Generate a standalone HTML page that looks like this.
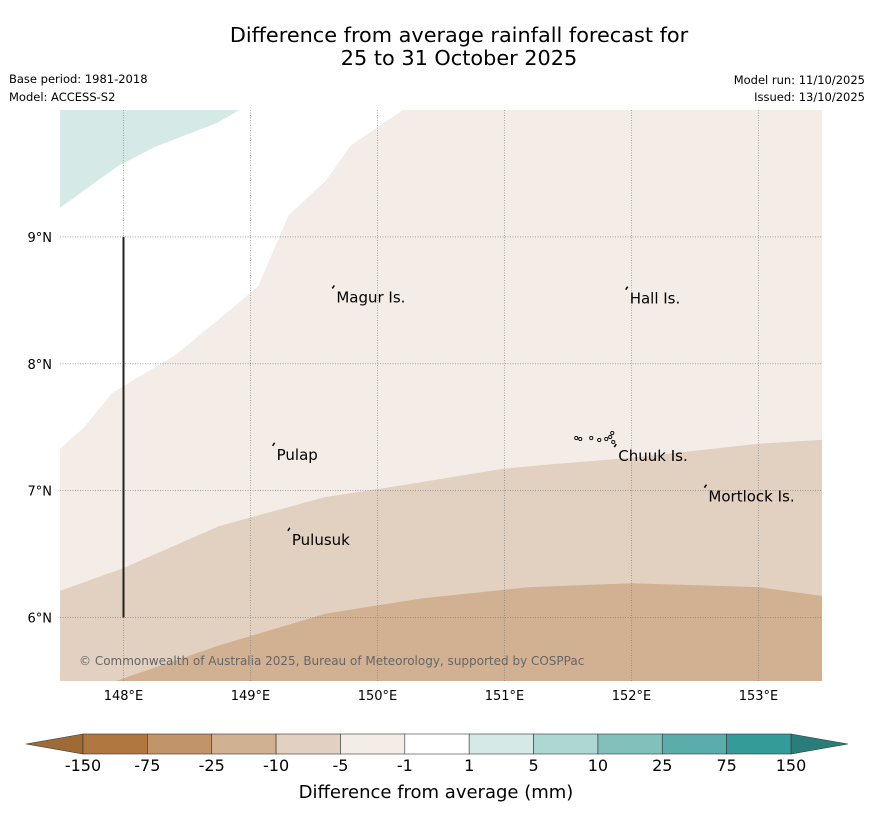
<!DOCTYPE html>
<html><head><meta charset="utf-8"><style>
body{margin:0;background:#fff;font-family:"Liberation Sans","DejaVu Sans",sans-serif}
svg text{font-family:"DejaVu Sans","Liberation Sans",sans-serif}
</style></head><body>
<svg id="c" width="873" height="816" xmlns="http://www.w3.org/2000/svg">
<text x="459" y="42" font-size="20.8" text-anchor="middle">Difference from average rainfall forecast for</text>
<text x="459" y="65" font-size="20.8" text-anchor="middle">25 to 31 October 2025</text>
<text x="9" y="83" font-size="11.5">Base period: 1981-2018</text>
<text x="9" y="101" font-size="11.5">Model: ACCESS-S2</text>
<text x="865" y="84" font-size="11.5" text-anchor="end">Model run: 11/10/2025</text>
<text x="865" y="101" font-size="11.5" text-anchor="end">Issued: 13/10/2025</text>
<g id="map"></g>
<g id="cbar"></g>
<text x="436" y="798" font-size="18" text-anchor="middle">Difference from average (mm)</text>
</svg>
<script>
const lonTicks=[148,149,150,151,152,153];
const latTicks=[6,7,8,9];
const tealBoundary=[[147.5,9.23],[147.96,9.56],[148.25,9.71],[148.74,9.90],[148.91,10.0]];
const whiteBoundary=[[147.5,7.33],[147.69,7.50],[147.91,7.77],[148.41,8.07],[148.75,8.35],[149.06,8.61],[149.30,9.17],[149.59,9.44],[149.79,9.72],[150.20,10.0]];
const mediumBoundary=[[147.5,6.21],[148.0,6.39],[148.75,6.72],[149.59,6.95],[150.18,7.04],[150.97,7.17],[151.28,7.20],[152.0,7.26],[153.0,7.37],[153.5,7.40]];
const darkBoundary=[[147.94,5.5],[148.75,5.78],[149.59,6.03],[150.34,6.15],[151.20,6.24],[152.0,6.27],[153.0,6.24],[153.5,6.17]];
const islandNames=["Magur Is.","Hall Is.","Pulap","Chuuk Is.","Mortlock Is.","Pulusuk"];
const islandLon=[149.66,151.97,149.19,151.88,152.59,149.31];
const islandLat=[8.57,8.56,7.33,7.32,7.0,6.66];
const cbarLevels=["-150","-75","-25","-10","-5","-1","1","5","10","25","75","150"];
const cbarColors=["#b07840","#c29469","#d2b192","#e2d0c0","#f4ece6","#ffffff","#d5e9e6","#aed6d3","#82c0bc","#5aadaa","#349b98"];
const LON0=147.5,LON1=153.5,LAT0=5.5,LAT1=10.0;
const PX0=60,PX1=822,PY0=110,PY1=681;
const sx=lon=>PX0+(lon-LON0)/(LON1-LON0)*(PX1-PX0);
const sy=lat=>PY1-(lat-LAT0)/(LAT1-LAT0)*(PY1-PY0);
const NS="http://www.w3.org/2000/svg";
function mk(tag,attrs,parent){const e=document.createElementNS(NS,tag);for(const k in attrs)e.setAttribute(k,attrs[k]);parent.appendChild(e);return e;}
const pts=a=>a.map(p=>sx(p[0]).toFixed(1)+","+sy(p[1]).toFixed(1)).join(" ");
const map=document.getElementById("map");
let e;
e=mk("rect",{x:PX0,y:PY0,width:PX1-PX0,height:PY1-PY0,fill:"#f4ece6"},map);


e=mk("polygon",{points:pts([...whiteBoundary,[LON0,LAT1]]),fill:"#ffffff"},map);


e=mk("polygon",{points:pts([...tealBoundary,[LON0,LAT1]]),fill:"#d5e9e6"},map);


e=mk("polygon",{points:pts([...mediumBoundary,[LON1,LAT0],[LON0,LAT0]]),fill:"#e2d0c0"},map);


e=mk("polygon",{points:pts([...darkBoundary,[LON1,LAT0]]),fill:"#d2b192"},map);


lonTicks.forEach(l=>{
 e=mk("line",{x1:sx(l),x2:sx(l),y1:PY0,y2:PY1,stroke:"#777","stroke-width":0.6,"stroke-dasharray":"1,1.5"},map);
 
 
 e=mk("text",{x:sx(l),y:PY1+19,"font-size":13,"text-anchor":"middle"},map);e.textContent=l+"°E";
 
 
});
latTicks.forEach(l=>{
 e=mk("line",{x1:PX0,x2:PX1,y1:sy(l),y2:sy(l),stroke:"#777","stroke-width":0.6,"stroke-dasharray":"1,1.5"},map);
 
 
 e=mk("text",{x:PX0-8,y:sy(l)+5,"font-size":13,"text-anchor":"end"},map);e.textContent=l+"°N";
 
 
});
e=mk("line",{x1:sx(148),x2:sx(148),y1:sy(9),y2:sy(6),stroke:"#222","stroke-width":2},map);


islandNames.forEach((n,i)=>{
 const x=sx(islandLon[i]),y=sy(islandLat[i]);
 e=mk("path",{d:`M${x-2},${y-3} l2,-3`,stroke:"#000","stroke-width":1.5,fill:"none"},map);
 
 
 e=mk("text",{x:x+2,y:y+11,"font-size":15},map);e.textContent=n;
 
 
});
// Chuuk lagoon small islands
const cx=sx(151.88),cy=sy(7.32);
[[-40,-12],[-36,-11],[-25,-12],[-17,-10],[-10,-11],[-6,-13],[-4,-17],[-3,-8]].forEach(p=>{
 e=mk("circle",{cx:cx+p[0],cy:cy+p[1],r:1.6,fill:"none",stroke:"#000","stroke-width":0.9},map);
 
 
});
e=mk("text",{x:79,y:665,"font-size":12,fill:"#666"},map);e.textContent="© Commonwealth of Australia 2025, Bureau of Meteorology, supported by COSPPac";


const cb=document.getElementById("cbar");
const CB0=83,CB1=791,CY=734,CH=20,w=(CB1-CB0)/cbarColors.length;
e=mk("polygon",{points:`${CB0},${CY} 26,${CY+CH/2} ${CB0},${CY+CH}`,fill:"#9e6a35",stroke:"#333","stroke-width":0.6},cb);


e=mk("polygon",{points:`${CB1},${CY} 848,${CY+CH/2} ${CB1},${CY+CH}`,fill:"#2b7d7b",stroke:"#333","stroke-width":0.6},cb);


cbarColors.forEach((c,i)=>{
 e=mk("rect",{x:CB0+i*w,y:CY,width:w,height:CH,fill:c,stroke:"#333","stroke-width":0.6},cb);
 
 
});
cbarLevels.forEach((t,i)=>{
 e=mk("text",{x:CB0+i*w,y:771,"font-size":16,"text-anchor":"middle"},cb);e.textContent=t;
 
 
});
</script>
</body></html>
